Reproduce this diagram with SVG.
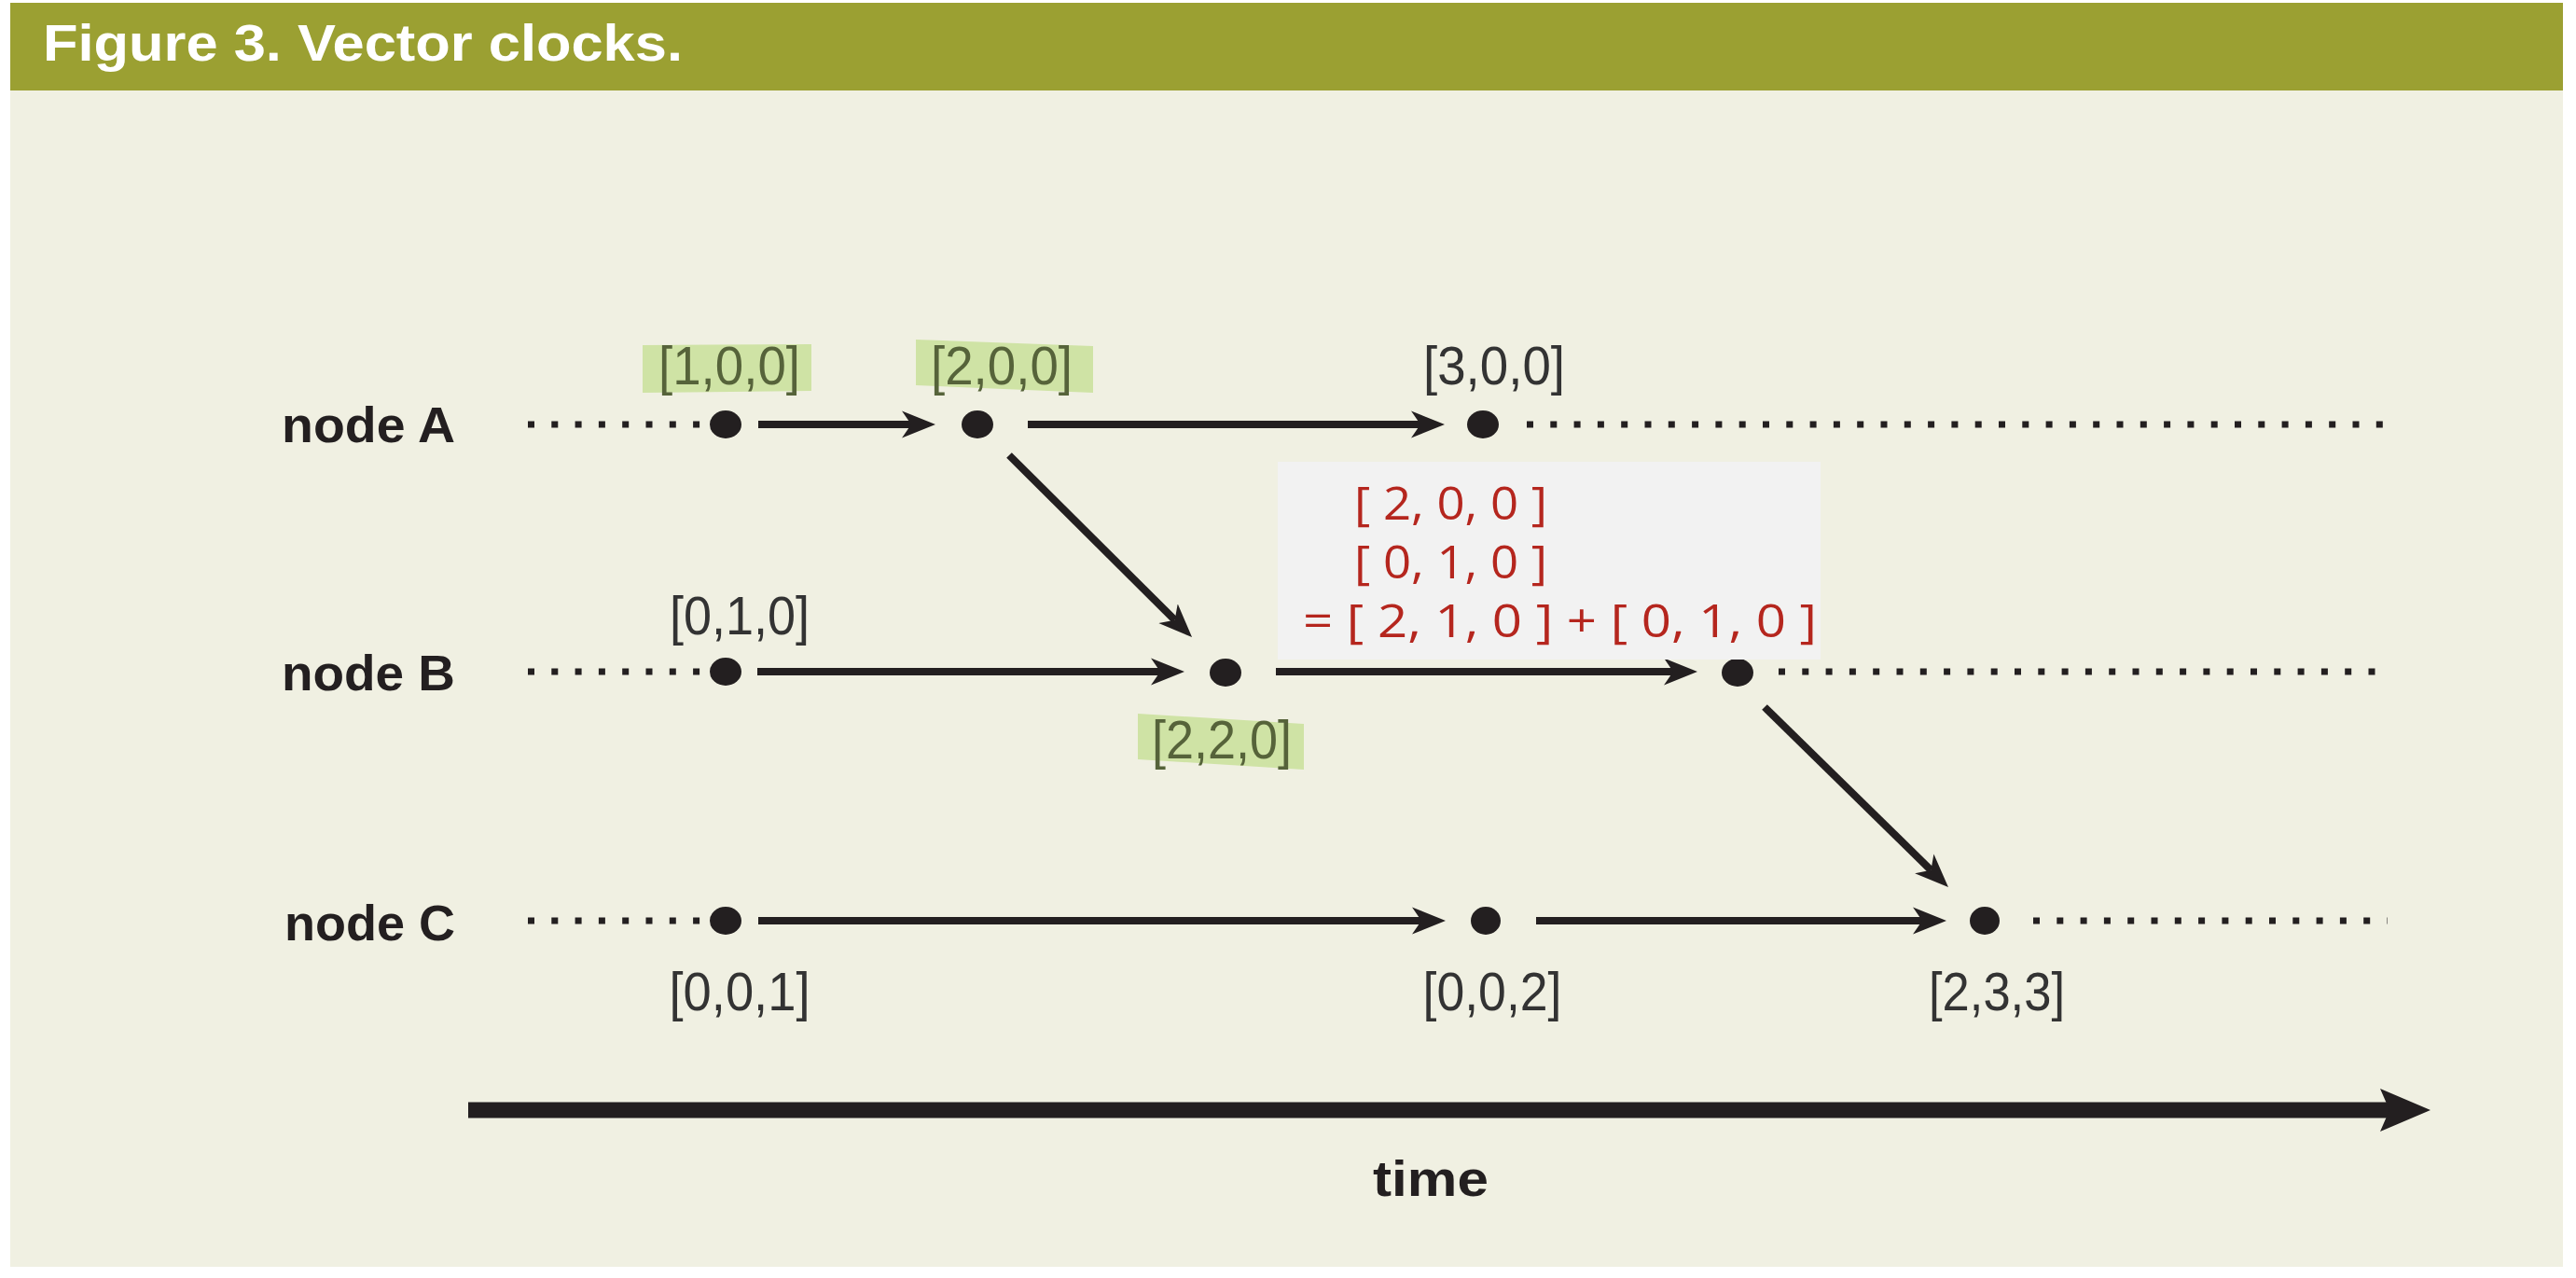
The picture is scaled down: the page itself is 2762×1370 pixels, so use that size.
<svg xmlns="http://www.w3.org/2000/svg" width="2762" height="1370" viewBox="0 0 2762 1370">
<style>
.title{font-family:"Liberation Sans",Arial,sans-serif;font-weight:bold;font-size:56px;fill:#ffffff}
.node{font-family:"Liberation Sans",Arial,sans-serif;font-weight:bold;font-size:54px;fill:#231F20}
.lbl{font-family:"Liberation Sans",Arial,sans-serif;font-size:58px;fill:#333333;text-anchor:middle}
.hl-t{fill:#56633A}
.hl{fill:#CFE3A5}
.red{font-family:"Open Sans","Liberation Sans",sans-serif;font-size:50px;fill:#B5261E}
.tl{stroke:#231F20;stroke-width:8;fill:none}
.arr{stroke:#231F20;stroke-width:8;fill:none;marker-end:url(#ah)}
.dot{stroke:#231F20;stroke-width:7;stroke-dasharray:7 18.3;fill:none}
.ev{fill:#231F20}
</style>
<defs>
<marker id="ah" markerUnits="userSpaceOnUse" markerWidth="40" markerHeight="32" viewBox="0 0 40 32" refX="10" refY="16" orient="auto">
<path d="M0,1.5 L36,16 L0,30.5 L10,16 Z" fill="#231F20"/>
</marker>
</defs>
<rect x="0" y="0" width="2762" height="1370" fill="#ffffff"/>
<rect x="11" y="3" width="2737" height="94" fill="#9BA032"/>
<rect x="11" y="97" width="2737" height="1261" fill="#F0F0E2"/>
<text class="title" x="46" y="65" textLength="686" lengthAdjust="spacingAndGlyphs">Figure 3. Vector clocks.</text>

<g id="timelines">
<line class="dot" x1="566" y1="455" x2="752" y2="455"/>
<line class="dot" x1="1637" y1="455" x2="2560" y2="455"/>
<line class="dot" x1="566" y1="720" x2="752" y2="720"/>
<line class="dot" x1="1907" y1="720" x2="2560" y2="720"/>
<line class="dot" x1="566" y1="987" x2="752" y2="987"/>
<line class="dot" x1="2180" y1="987" x2="2560" y2="987"/>
</g>

<g id="connectors">
<line class="arr" x1="813" y1="455" x2="977" y2="455"/>
<line class="arr" x1="1102" y1="455" x2="1523" y2="455"/>
<line class="arr" x1="1082" y1="488" x2="1259.6" y2="664.7"/>
<line class="arr" x1="812" y1="720" x2="1244" y2="720"/>
<line class="arr" x1="1368" y1="720" x2="1794" y2="720"/>
<line class="arr" x1="1892" y1="758" x2="2070.4" y2="932.8"/>
<line class="arr" x1="813" y1="987" x2="1524" y2="987"/>
<line class="arr" x1="1647" y1="987" x2="2061" y2="987"/>
</g>

<g id="nodeA">
<text class="node" x="302" y="474" textLength="186" lengthAdjust="spacingAndGlyphs">node A</text>
<ellipse class="ev" cx="778" cy="455" rx="17" ry="15"/>
<ellipse class="ev" cx="1048" cy="455" rx="17" ry="15"/>
<ellipse class="ev" cx="1590" cy="455" rx="17" ry="15"/>
<polygon class="hl" points="689,370 870,369 870,419 689,421"/>
<text class="lbl hl-t" x="782" y="412" textLength="152" lengthAdjust="spacingAndGlyphs">[1,0,0]</text>
<polygon class="hl" points="982,364 1172,371 1172,421 982,413"/>
<text class="lbl hl-t" x="1074" y="412" textLength="152" lengthAdjust="spacingAndGlyphs">[2,0,0]</text>
<text class="lbl" x="1602" y="412" textLength="152" lengthAdjust="spacingAndGlyphs">[3,0,0]</text>
</g>

<g id="nodeB">
<text class="node" x="302" y="740" textLength="186" lengthAdjust="spacingAndGlyphs">node B</text>
<ellipse class="ev" cx="778" cy="720" rx="17" ry="15"/>
<ellipse class="ev" cx="1314" cy="721" rx="17" ry="15"/>
<ellipse class="ev" cx="1863" cy="721" rx="17" ry="15"/>
<text class="lbl" x="793" y="680" textLength="150" lengthAdjust="spacingAndGlyphs">[0,1,0]</text>
<polygon class="hl" points="1220,765 1398,776 1398,825 1220,814"/>
<text class="lbl hl-t" x="1310" y="813" textLength="150" lengthAdjust="spacingAndGlyphs">[2,2,0]</text>
</g>

<g id="merge-box">
<rect x="1370" y="495" width="582" height="212" fill="#F2F2F2"/>
<text class="red" x="1452" y="557" textLength="207" lengthAdjust="spacingAndGlyphs">[ 2, 0, 0 ]</text>
<text class="red" x="1452" y="620" textLength="207" lengthAdjust="spacingAndGlyphs">[ 0, 1, 0 ]</text>
<text class="red" x="1397" y="683" textLength="551" lengthAdjust="spacingAndGlyphs">= [ 2, 1, 0 ] + [ 0, 1, 0 ]</text>
</g>

<g id="nodeC">
<text class="node" x="305" y="1008" textLength="183" lengthAdjust="spacingAndGlyphs">node C</text>
<ellipse class="ev" cx="778" cy="987" rx="17" ry="15"/>
<ellipse class="ev" cx="1593" cy="987" rx="16" ry="15"/>
<ellipse class="ev" cx="2128" cy="987" rx="16" ry="15"/>
<text class="lbl" x="793" y="1083" textLength="151" lengthAdjust="spacingAndGlyphs">[0,0,1]</text>
<text class="lbl" x="1600" y="1083" textLength="149" lengthAdjust="spacingAndGlyphs">[0,0,2]</text>
<text class="lbl" x="2141" y="1083" textLength="146" lengthAdjust="spacingAndGlyphs">[2,3,3]</text>
</g>

<g id="time-axis">
<line x1="502" y1="1190" x2="2562" y2="1190" stroke="#231F20" stroke-width="17"/>
<polygon points="2552,1167 2606,1190 2552,1213 2562,1190" fill="#231F20"/>
<text class="node" x="1472" y="1282" textLength="124" lengthAdjust="spacingAndGlyphs">time</text>
</g>
</svg>
